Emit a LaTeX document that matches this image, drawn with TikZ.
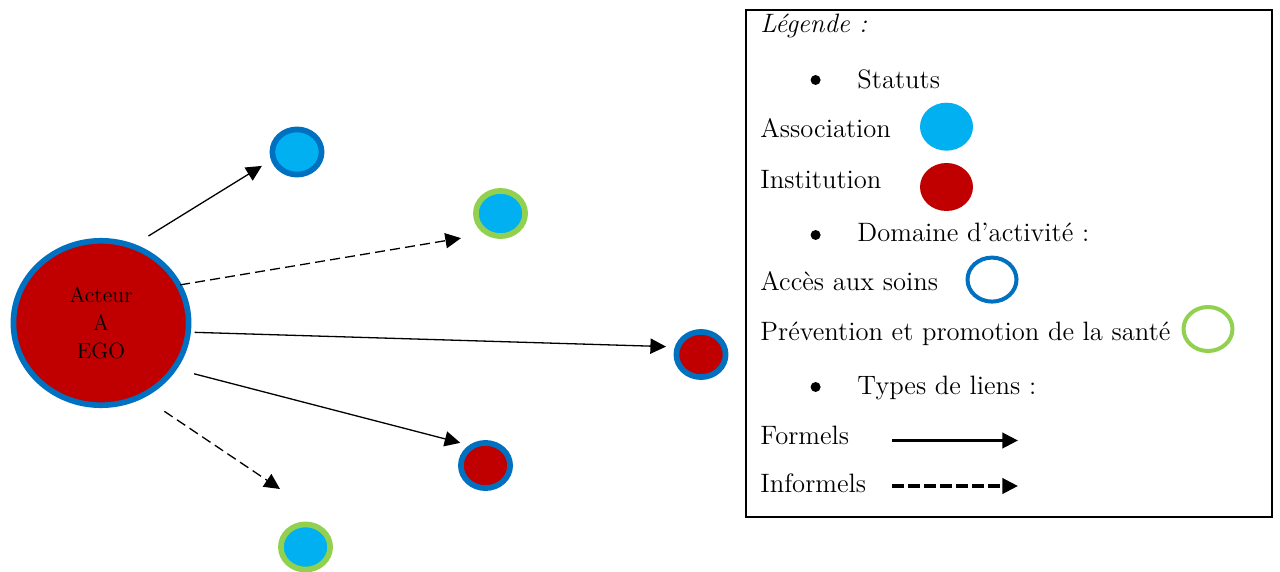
\documentclass[tikz,border=0pt]{standalone}
\usepackage{fontspec}
\usetikzlibrary{shapes.geometric, arrows.meta, positioning}
\definecolor{bleuF}{HTML}{0070C0}
\definecolor{bleuC}{HTML}{00B0F0}
\definecolor{rougeI}{HTML}{C00000}
\definecolor{vertP}{HTML}{92D050}
\tikzset{
  egono/.style = {ellipse, draw=bleuF, fill=rougeI, line width=2.85pt,
    inner sep=0pt, outer sep=0pt, minimum width=87.6pt, minimum height=82.2pt,
    align=center, font=\fontsize{11}{14}\selectfont},
  pno/.style = {ellipse, line width=2.85pt, inner sep=0pt, outer sep=0pt,
    minimum width=24.6pt, minimum height=22.6pt},
  asso/.style = {pno, fill=bleuC},
  inst/.style = {pno, fill=rougeI},
  dacc/.style = {draw=bleuF},
  dprev/.style = {draw=vertP},
  lien/.style = {-{Triangle[length=7.8pt, width=7.6pt]}, line width=0.65pt},
  linf/.style = {lien, dash pattern=on 5pt off 2.6pt}
}
\tikzset{
  lg/.style = {anchor=base west, inner sep=0pt, font=\fontsize{13.3}{15}\selectfont},
  lgpuce/.style = {circle, fill=black, inner sep=0pt, minimum size=5pt},
  lgrond/.style = {ellipse, inner sep=0pt, outer sep=0pt,
    minimum width=26.5pt, minimum height=24pt},
  lganneau/.style = {ellipse, line width=2pt, inner sep=0pt,
    minimum width=24.5pt, minimum height=22pt},
  lgfl/.style = {-{Triangle[length=7.8pt, width=7.6pt]}, line width=1.6pt}
}

\begin{document}
\begin{tikzpicture}[x=0.5pt, y=-0.5pt]
  \useasboundingbox (0,0) rectangle (1280,572);
  \node [egono] (ego) at (101,323) {Acteur\\A\\EGO};
  \node [asso, dacc] (n1) at (297,152) {};
  \node [asso, dprev] (n2) at (500.5,213.5) {};
  \node [inst, dacc] (n3) at (701,354.5) {};
  \node [inst, dacc] (n4) at (485.5,465.5) {};
  \node [asso, dprev] (n5) at (305.5,547) {};
  \coordinate (p5) at (280,489);
  \draw [lien, shorten <=9.65pt, shorten >=6.85pt] (ego.68.3) -- (n1.196.3);
  \draw [linf, shorten <=0.7pt, shorten >=14.2pt] (ego.26.6) -- (n2.240.1);
  \draw [lien, shorten <=3.25pt, shorten >=5.9pt] (ego.354.3) -- (n3.162.9);
  \draw [lien, shorten <=10.45pt, shorten >=6.5pt] (ego.328.8) -- (n4.123.9);
  \draw [linf, shorten <=13.8pt] (ego.299.6) -- (p5);

  \draw [line width=1pt] (746,10) rectangle (1272,517);
  \node [lg] (tleg) at (760,33) {\textit{Légende :}};
  \node [lgpuce] (pu1) at (815.6,80) {};
  \node [lg] (tstat) at (857,89) {Statuts};
  \node [lg] (tass) at (760,137.5) {Association};
  \node [lgrond, fill=bleuC] (rass) at (946.5,126.7) {};
  \node [lg] (tins) at (760,188.3) {Institution};
  \node [lgrond, fill=rougeI] (rins) at (946.5,187) {};
  \node [lgpuce] (pu2) at (815.6,235) {};
  \node [lg] (tdom) at (857,241.7) {Domaine d’activité :};
  \node [lg] (tacc) at (760,290.8) {Accès aux soins};
  \node [lganneau, draw=bleuF] (racc) at (992,279.6) {};
  \node [lg] (tprev) at (760,340.3) {Prévention et promotion de la santé};
  \node [lganneau, draw=vertP] (rprev) at (1208,329) {};
  \node [lgpuce] (pu3) at (815.6,387) {};
  \node [lg] (ttyp) at (857,394.5) {Types de liens :};
  \node [lg] (tfor) at (760,444.6) {Formels};
  \coordinate (f1) at (892,440.5);
  \coordinate (f2) at (1018,440.5);
  \draw [lgfl] (f1) -- (f2);
  \node [lg] (tinf) at (760,492.5) {Informels};
  \coordinate (i1) at (892,486);
  \coordinate (i2) at (1018,486);
  \draw [lgfl, dash pattern=on 6.2pt off 1.8pt] (i1) -- (i2);
\end{tikzpicture}
\end{document}
